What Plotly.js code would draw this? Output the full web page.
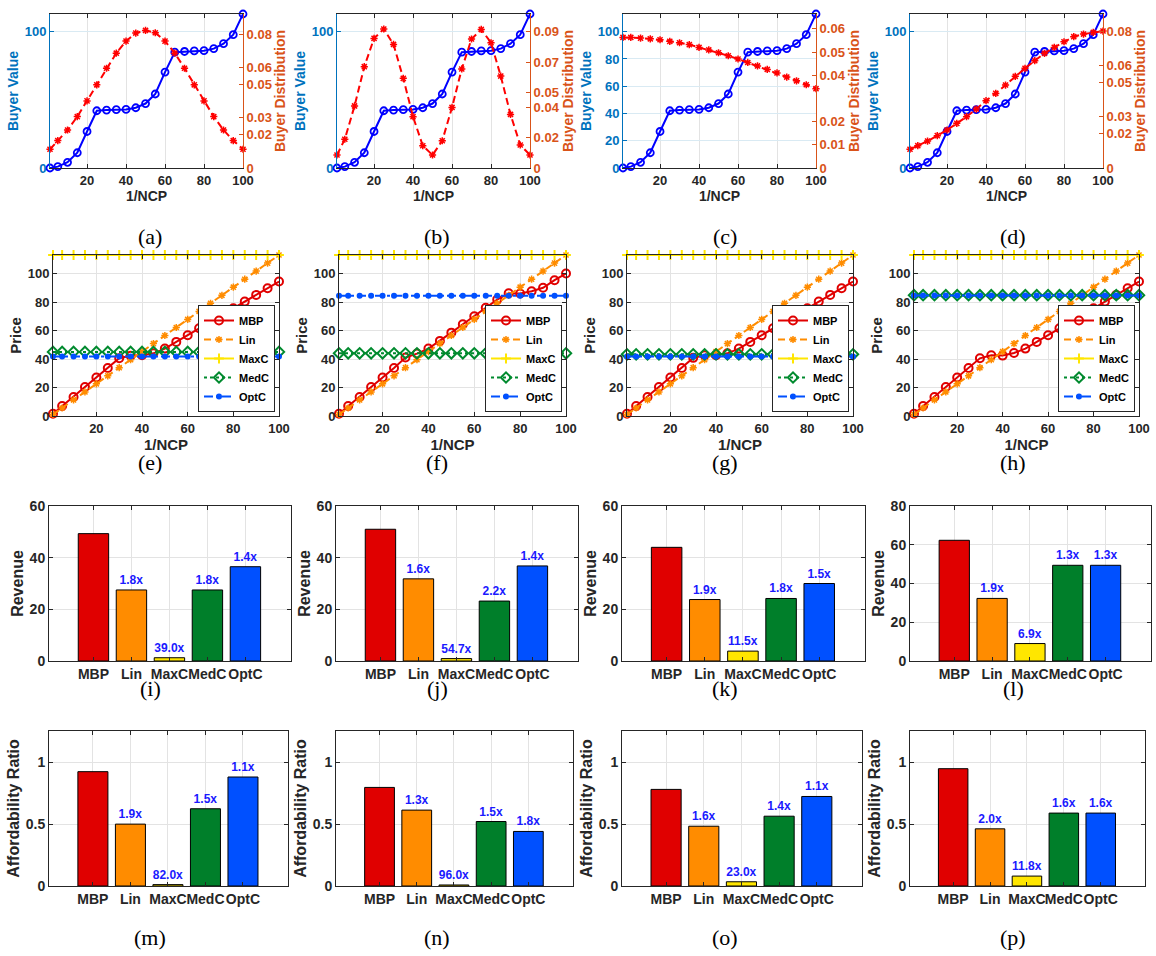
<!DOCTYPE html>
<html><head><meta charset="utf-8">
<script src="https://cdn.plot.ly/plotly-3.0.1.min.js"></script>
<style>html,body{margin:0;padding:0;background:#fff}#chart{width:1156px;height:956px}</style>
</head><body><div id="chart"></div>
<script>
// ---------------- DATA ----------------
const ncp = [1,5,10,15,20,25,30,35,40,45,50,55,60,65,70,75,80,85,90,95,100];
const buyerValue = [0,1,4.2,11.2,26.8,42,42.5,42.8,43,44.2,47.3,54.3,70.4,85,85.5,85.9,86.1,87.6,91.2,97.8,113];
const distA = [0.0112,0.0164,0.0227,0.0307,0.0401,0.0497,0.0596,0.0686,0.0758,0.0806,0.0822,0.0808,0.0758,0.0686,0.0596,0.0497,0.0401,0.0307,0.0227,0.0164,0.0112];
const distB = [0.0086,0.019,0.041,0.0669,0.0856,0.0918,0.0816,0.0592,0.0339,0.0147,0.0086,0.018,0.040,0.0654,0.0852,0.0915,0.0827,0.0607,0.0354,0.0152,0.0086];
const distC = [0.0563,0.0563,0.056,0.0557,0.0553,0.0546,0.054,0.0532,0.052,0.0509,0.0497,0.0484,0.047,0.0455,0.044,0.0425,0.041,0.0392,0.0376,0.0359,0.0342];
const distD = [0.011,0.0131,0.0158,0.019,0.0223,0.0262,0.0301,0.0346,0.0395,0.0438,0.0487,0.0538,0.0585,0.063,0.0673,0.0708,0.0741,0.0771,0.0786,0.0796,0.0804];
const valueTicks = [[0,100],[0,100],[0,20,40,60,80,100],[0,100]];
const distTicks = [[0,0.02,0.03,0.05,0.06,0.08],[0,0.02,0.04,0.05,0.07,0.09],[0,0.01,0.02,0.04,0.05,0.06],[0,0.02,0.03,0.05,0.06,0.08]];
const distMax = [0.092,0.1017,0.0664,0.0904];

const mbpE = [1.6,7,13.3,20.4,27,33.7,40.6,42.3,42.7,44,47.3,52,56.7,61.6,66.3,71,75.6,80.3,85,89.7,94.4];
const mbpF = [1.6,7,13.3,20.4,27,33.7,41,43.8,47.3,52.7,58.5,64.4,70,75.9,81.7,86.2,86,87.6,90,95.3,100];
const mbpG = [1.6,7,13.3,20.4,27,33.7,40.8,42.6,42.6,44,47.3,52,56.7,61.6,66.3,71,75.6,80.3,85,89.7,94.4];
const mbpH = [1.6,7,13.3,20.4,27,33.7,40.5,42.6,42.4,44.2,47.3,52,56.7,61.6,66.3,71,75.6,80.3,85,89.7,94.4];
const priceLin = [1.1,5.6,11.3,16.9,22.6,28.2,33.9,39.5,45.2,50.8,56.5,62.1,67.8,73.4,79.1,84.7,90.4,96,101.7,107.3,113];
const priceMaxC = [113,113,113,113];
const priceMedC = [45,44,43.3,84.8];
const priceOptC = [41.7,84.4,41.7,84.6];

const methods = ['MBP','Lin','MaxC','MedC','OptC'];
const revI = [49.3,27.5,1.26,27.5,36.5];
const revJ = [51,31.8,0.93,23.2,36.8];
const revK = [44,23.8,3.83,24.2,30];
const revL = [62.3,32.3,9.0,49.4,49.4];
const revLabI = ['','1.8x','39.0x','1.8x','1.4x'];
const revLabJ = ['','1.6x','54.7x','2.2x','1.4x'];
const revLabK = ['','1.9x','11.5x','1.8x','1.5x'];
const revLabL = ['','1.9x','6.9x','1.3x','1.3x'];
const affM = [0.922,0.499,0.0112,0.623,0.879];
const affN = [0.795,0.612,0.0083,0.52,0.44];
const affO = [0.779,0.482,0.034,0.563,0.722];
const affP = [0.946,0.461,0.08,0.588,0.588];
const affLabM = ['','1.9x','82.0x','1.5x','1.1x'];
const affLabN = ['','1.3x','96.0x','1.5x','1.8x'];
const affLabO = ['','1.6x','23.0x','1.4x','1.1x'];
const affLabP = ['','2.0x','11.8x','1.6x','1.6x'];
const subLabels = ['(a)','(b)','(c)','(d)','(e)','(f)','(g)','(h)','(i)','(j)','(k)','(l)','(m)','(n)','(o)','(p)'];

// ---------------- LAYOUT ----------------
const W = 1156, H = 956;
const px = (a,b) => [a/W, b/W];
const py = (t,b) => [1-b/H, 1-t/H];
const FONT = 'Liberation Sans, Arial, Helvetica, sans-serif';
const DARK = '#262626';
const BLUE_AX = '#0072BD', ORANGE_AX = '#D95319';
const barColors = ['#e00000','#ff8c00','#ffe600','#007f2a','#0050ff'];

const layout = {width:W, height:H, margin:{l:0,r:0,t:0,b:0}, paper_bgcolor:'#fff', plot_bgcolor:'#fff',
  font:{family:FONT, size:13, color:DARK, weight:'bold'}, showlegend:true, annotations:[]};
const traces = [];
const aid = k => k===1 ? '' : String(k);
function f(size,color){return {family:FONT,size:size,color:color||DARK,weight:'bold'};}
function ax(extra){
  return Object.assign({showline:true, linecolor:DARK, linewidth:1, ticks:'inside', ticklen:4, tickcolor:DARK,
    zeroline:false, showgrid:true, gridcolor:'#e3e3e3', tickfont:f(13), fixedrange:true, tickangle:0}, extra);
}

const row1X = [[50,243],[337,530],[623,816],[910,1103]], row1Y=[14,168];
const row2X = [[53,279],[339,566],[627,853],[914,1139]], row2Y=[255,416];
const row3X = [[49,291],[336,578],[622,865],[910,1151]], row3Y=[506,661];
const row4X = [[49,288],[336,573],[622,862],[910,1145]], row4Y=[731,886];
const labelX = [150,437,725,1013], labelY=[236,463,688,937];

// Row 1
const dists = [distA,distB,distC,distD];
for(let i=0;i<4;i++){
  const k=i+1, id=aid(k), rid=String(16+k);
  layout['xaxis'+id] = ax({domain:px(...row1X[i]), anchor:'y'+id, range:[1,100], tickvals:[20,40,60,80,100], mirror:'ticks',
    title:{text:'1/NCP', font:f(14), standoff:3}});
  layout['yaxis'+id] = ax({domain:py(...row1Y), anchor:'x'+id, range:[0,113], tickvals:valueTicks[i], linecolor:BLUE_AX, tickcolor:BLUE_AX,
    tickfont:f(13,BLUE_AX), gridcolor:'#d9eaf3', title:{text:'Buyer Value', font:f(14,BLUE_AX), standoff:2}});
  layout['yaxis'+rid] = ax({overlaying:'y'+id, anchor:'x'+id, side:'right', range:[0,distMax[i]], tickvals:distTicks[i], linecolor:ORANGE_AX,
    tickcolor:ORANGE_AX, tickfont:f(13,ORANGE_AX), showgrid:false, title:{text:'Buyer Distribution', font:f(14,ORANGE_AX), standoff:2}});
  traces.push({x:ncp, y:buyerValue, xaxis:'x'+id, yaxis:'y'+id, type:'scatter', mode:'lines+markers', showlegend:false, cliponaxis:false,
    line:{color:'#0000ff', width:2}, marker:{symbol:'circle-open', size:7, color:'#0000ff', line:{width:1.8, color:'#0000ff'}}});
  traces.push({x:ncp, y:dists[i], xaxis:'x'+id, yaxis:'y'+rid, type:'scatter', mode:'lines+markers', showlegend:false, cliponaxis:false,
    line:{color:'#ff0000', width:2, dash:'7px,4px'}, marker:{symbol:'asterisk-open', size:6, color:'#ff0000', line:{width:1.5, color:'#ff0000'}}});
}

// Row 2
const mbps = [mbpE,mbpF,mbpG,mbpH];
for(let i=0;i<4;i++){
  const k=5+i, id=aid(k), leg = i===0?'legend':'legend'+(i+1);
  layout['xaxis'+id] = ax({domain:px(...row2X[i]), anchor:'y'+id, range:[1,100], tickvals:[20,40,60,80,100], mirror:'ticks',
    title:{text:'1/NCP', font:f(15), standoff:3}});
  layout['yaxis'+id] = ax({domain:py(...row2Y), anchor:'x'+id, range:[0,113], tickvals:[0,20,40,60,80,100], mirror:'ticks',
    title:{text:'Price', font:f(15), standoff:2}});
  layout[leg] = {x:(row2X[i][1]-4)/W, xanchor:'right', y:1-(row2Y[1]-4)/H, yanchor:'bottom', bgcolor:'#fff', bordercolor:DARK, borderwidth:1,
    font:f(11,'#000'), itemwidth:30, tracegroupgap:0};
  const common = {xaxis:'x'+id, yaxis:'y'+id, type:'scatter', mode:'lines+markers', legend:leg, x:ncp, cliponaxis:false};
  traces.push(Object.assign({}, common, {name:'MBP', y:mbps[i], line:{color:'#e00000', width:2},
    marker:{symbol:'circle-open', size:8, color:'#e00000', line:{width:2, color:'#e00000'}}}));
  traces.push(Object.assign({}, common, {name:'Lin', y:priceLin, line:{color:'#ff8c00', width:2, dash:'7px,4px'},
    marker:{symbol:'asterisk-open', size:6, color:'#ff8c00', line:{width:1.5, color:'#ff8c00'}}}));
  traces.push(Object.assign({}, common, {name:'MaxC', y:ncp.map(()=>priceMaxC[i]), line:{color:'#ffe600', width:2},
    marker:{symbol:'cross-thin-open', size:7, color:'#ffe600', line:{width:2, color:'#ffe600'}}}));
  traces.push(Object.assign({}, common, {name:'MedC', y:ncp.map(()=>priceMedC[i]), line:{color:'#008a2e', width:2, dash:'dot'},
    marker:{symbol:'diamond-open', size:8, color:'#008a2e', line:{width:2, color:'#008a2e'}}}));
  traces.push(Object.assign({}, common, {name:'OptC', y:ncp.map(()=>priceOptC[i]), line:{color:'#0050ff', width:2, dash:'dashdot'},
    marker:{symbol:'circle', size:6, color:'#0050ff'}}));
}

// Rows 3-4 bars
const barSets = [
  [revI,revLabI],[revJ,revLabJ],[revK,revLabK],[revL,revLabL],
  [affM,affLabM],[affN,affLabN],[affO,affLabO],[affP,affLabP]];
for(let j=0;j<8;j++){
  const k=9+j, id=aid(k), row3 = j<4, c=j%4;
  const dom = row3 ? row3X[c] : row4X[c];
  const domY = row3 ? row3Y : row4Y;
  layout['xaxis'+id] = ax({domain:px(...dom), anchor:'y'+id, type:'category', categoryorder:'array', categoryarray:methods,
    range:[-1.17,5.2], mirror:'ticks', tickfont:f(14), tickangle:0});
  let yextra;
  if(row3){
    const top = (j===3)?80:60;
    yextra = {range:[0,top], tickvals: top===80?[0,20,40,60,80]:[0,20,40,60], title:{text:'Revenue', font:f(16), standoff:2}};
  } else {
    yextra = {range:[0,1.25], tickvals:[0,0.5,1], ticktext:['0','0.5','1'], title:{text:'Affordability Ratio', font:f(16), standoff:2}};
  }
  layout['yaxis'+id] = ax(Object.assign({domain:py(...domY), anchor:'x'+id, mirror:'ticks', tickfont:f(14)}, yextra));
  traces.push({type:'bar', x:methods, y:barSets[j][0], text:barSets[j][1], textposition:'outside', cliponaxis:false, constraintext:'none',
    textfont:f(12,'#1a1aff'), xaxis:'x'+id, yaxis:'y'+id, showlegend:false, width:0.8,
    marker:{color:barColors, line:{color:'#000', width:1}}, hoverinfo:'skip'});
}

// sub-figure labels
for(let r=0;r<4;r++) for(let c=0;c<4;c++){
  layout.annotations.push({text:subLabels[r*4+c], xref:'paper', yref:'paper', x:labelX[c]/W, y:1-labelY[r]/H,
    xanchor:'center', yanchor:'middle', showarrow:false, font:{family:'Liberation Serif, Times New Roman, serif', size:22, color:'#000', weight:'normal'}});
}

Plotly.newPlot('chart', traces, layout, {staticPlot:true, displayModeBar:false});
</script></body></html>
